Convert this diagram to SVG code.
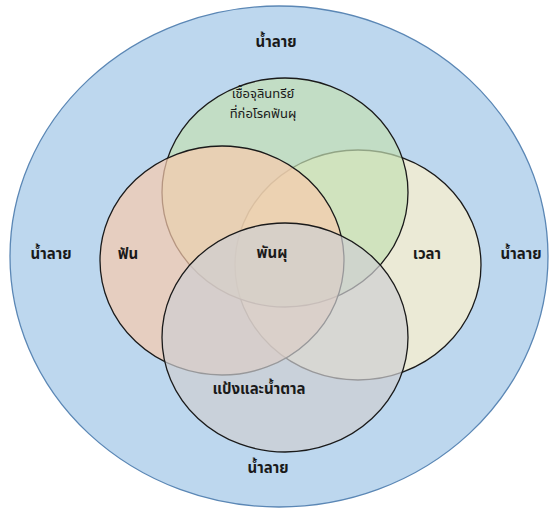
<svg xmlns="http://www.w3.org/2000/svg" width="549" height="508" viewBox="0 0 549 508">
<style>
.set{stroke:#1a1a1a;stroke-width:1.3;fill-opacity:0.7}
.lbl{font-family:"Noto Sans Thai","Noto Sans","DejaVu Sans",sans-serif;font-size:15px;font-weight:bold;fill:#1a1a1a;text-anchor:middle}
.sm{font-size:13px;font-weight:normal}
</style>
<rect width="549" height="508" fill="#ffffff"/>
<g id="saliva">
<ellipse cx="279" cy="256.5" rx="269" ry="250.5" fill="#BDD7EE" stroke="#5B87B5" stroke-width="1.3"/>
<text class="lbl" x="276" y="47">น้ำลาย</text>
<text class="lbl" x="51" y="259">น้ำลาย</text>
<text class="lbl" x="521" y="259">น้ำลาย</text>
<text class="lbl" x="268" y="473">น้ำลาย</text>
</g>
<g id="time">
<ellipse class="set" cx="358" cy="265" rx="123" ry="115" fill="#FFF2CC"/>
</g>
<g id="microbes">
<ellipse class="set" cx="285" cy="192.5" rx="123" ry="114.5" fill="#C5E0B4"/>
</g>
<g id="tooth">
<ellipse class="set" cx="222" cy="260.5" rx="122" ry="114.5" fill="#F8CBAD"/>
</g>
<g id="sugar">
<ellipse class="set" cx="285" cy="337.5" rx="123" ry="114.5" fill="#CFCFD2"/>
</g>
<g id="labels">
<text class="lbl sm" x="263" y="98">เชื้อจุลินทรีย์</text>
<text class="lbl sm" x="263" y="118">ที่ก่อโรคฟันผุ</text>
<text class="lbl" x="128" y="259">ฟัน</text>
<text class="lbl" x="272" y="258">พันผุ</text>
<text class="lbl" x="427" y="259">เวลา</text>
<text class="lbl" x="259" y="394">แป้งและน้ำตาล</text>
</g>
</svg>
